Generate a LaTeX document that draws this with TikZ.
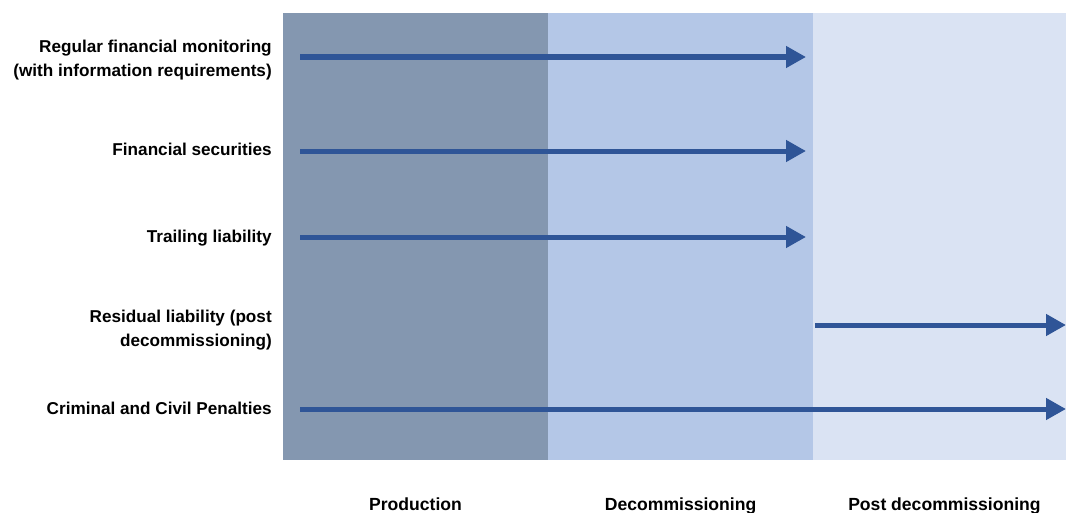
\documentclass[tikz,border=0pt]{standalone}
\usepackage{fontspec}
\setmainfont{Liberation Sans}
\usetikzlibrary{arrows.meta,positioning}
\definecolor{prodblue}{HTML}{8497B0}
\definecolor{decomblue}{HTML}{B4C7E7}
\definecolor{postblue}{HTML}{DAE3F3}
\definecolor{arrowblue}{HTML}{2F5597}

\begin{document}
\begin{tikzpicture}[x=0.025cm, y=-0.025cm,
      band/.style={inner sep=0pt, outer sep=0pt, anchor=north west, minimum height=11.175cm},
      lbl/.style={anchor=east, align=right, font=\fontsize{12.2}{16.5}\selectfont\bfseries, inner sep=0pt},
      phase/.style={anchor=base, font=\fontsize{12.5}{14}\selectfont\bfseries, inner sep=0pt},
      arr/.style={-{Triangle[length=0.5cm, width=0.52cm]}, draw=arrowblue, line width=0.125cm}
    ]
    \useasboundingbox (0,0) rectangle (1066,513);

    % phase bands
    \node[band, fill=prodblue, minimum width=6.625cm] (prod) at (283,13) {};
    \node[band, fill=decomblue, minimum width=6.625cm, right=0pt of prod] (decom) {};
    \node[band, fill=postblue, minimum width=6.325cm, right=0pt of decom] (post) {};

    \node[phase] (prodlab) at ([yshift=-1.25cm]prod.south) {Production};
    \node[phase] (decomlab) at ([yshift=-1.25cm]decom.south) {Decommissioning};
    \node[phase] (postlab) at ([xshift=0.12cm, yshift=-1.25cm]post.south) {Post decommissioning};

    % instruments
    \node[lbl] (monitor) at (272,60) {Regular financial monitoring\\(with information requirements)};
    \node[lbl] (secur) at (272,149) {Financial securities};
    \node[lbl] (trail) at (272,238) {Trailing liability};
    \node[lbl] (resid) at (272,330) {Residual liability (post\\decommissioning)};
    \node[lbl] (penal) at (272,408) {Criminal and Civil Penalties};

    \coordinate (monitor-s) at (300,57);
    \coordinate (monitor-e) at (806,57);
    \coordinate (secur-s) at (300,151);
    \coordinate (secur-e) at (806,151);
    \coordinate (trail-s) at (300,237);
    \coordinate (trail-e) at (806,237);
    \coordinate (resid-s) at (815,325);
    \coordinate (resid-e) at (1066,325);
    \coordinate (penal-s) at (300,409);
    \coordinate (penal-e) at (1066,409);

    \draw[arr] (monitor-s) -- (monitor-e);
    \draw[arr] (secur-s) -- (secur-e);
    \draw[arr] (trail-s) -- (trail-e);
    \draw[arr] (resid-s) -- (resid-e);
    \draw[arr] (penal-s) -- (penal-e);
  \end{tikzpicture}
\end{document}
